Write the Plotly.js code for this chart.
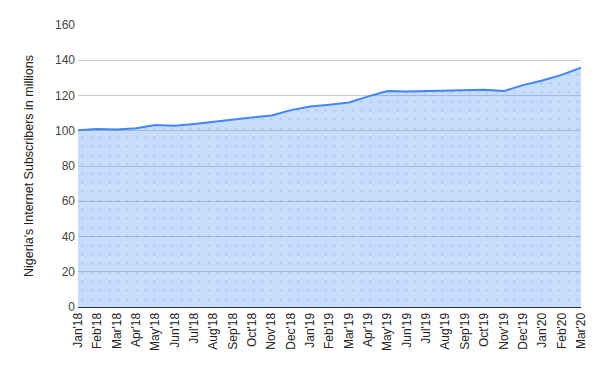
<!DOCTYPE html>
<html>
<head>
<meta charset="utf-8">
<script src="https://cdn.plot.ly/plotly-3.0.1.min.js"></script>
<style>html,body{margin:0;padding:0;background:#fff}#chart{width:600px;height:371px}</style>
</head>
<body>
<div id="chart"></div>
<script>
const months = ["Jan'18","Feb'18","Mar'18","Apr'18","May'18","Jun'18","Jul'18","Aug'18","Sep'18","Oct'18","Nov'18","Dec'18",
  "Jan'19","Feb'19","Mar'19","Apr'19","May'19","Jun'19","Jul'19","Aug'19","Sep'19","Oct'19","Nov'19","Dec'19",
  "Jan'20","Feb'20","Mar'20"];
const subscribers = [100.3,101.0,100.7,101.4,103.2,102.9,103.9,105.0,106.3,107.5,108.7,111.7,
  113.8,114.8,116.0,119.5,122.6,122.3,122.6,122.6,122.9,123.2,122.5,125.9,
  128.5,131.7,135.8];
const yTicks = [0,20,40,60,80,100,120,140,160];

Plotly.newPlot('chart', [{
  x: months,
  y: subscribers,
  type: 'scatter',
  mode: 'lines',
  line: {color: '#4285f4', width: 2},
  fill: 'tozeroy',
  fillcolor: 'rgba(66,133,244,0.3)',
  fillpattern: {shape: '.', bgcolor: 'rgba(66,133,244,0.29)', fgcolor: 'rgba(66,133,244,0.3)', size: 9, solidity: 0.04},
  hoverinfo: 'x+y'
}], {
  width: 600, height: 371,
  margin: {l: 78, r: 19, t: 25, b: 64},
  paper_bgcolor: '#fff', plot_bgcolor: '#fff',
  showlegend: false,
  font: {family: 'Liberation Sans, Arial, sans-serif', color: '#222'},
  xaxis: {
    type: 'category',
    range: [0, months.length - 1],
    tickangle: -90,
    tickfont: {size: 12, color: '#222'},
    showgrid: false,
    showline: true, linecolor: '#333', linewidth: 1,
    ticks: '', zeroline: false
  },
  yaxis: {
    range: [0, 160],
    tickvals: yTicks,
    ticktext: yTicks.map(String),
    tickfont: {size: 12, color: '#444'},
    ticklabelstandoff: 2,
    gridcolor: '#cccccc', gridwidth: 1,
    zeroline: false, showline: false, ticks: '',
    title: {text: "Nigeria's Internet Subscribers in millions", font: {size: 12.5, color: '#222'}, standoff: 18}
  }
}, {displayModeBar: false, staticPlot: true});
</script>
</body>
</html>
